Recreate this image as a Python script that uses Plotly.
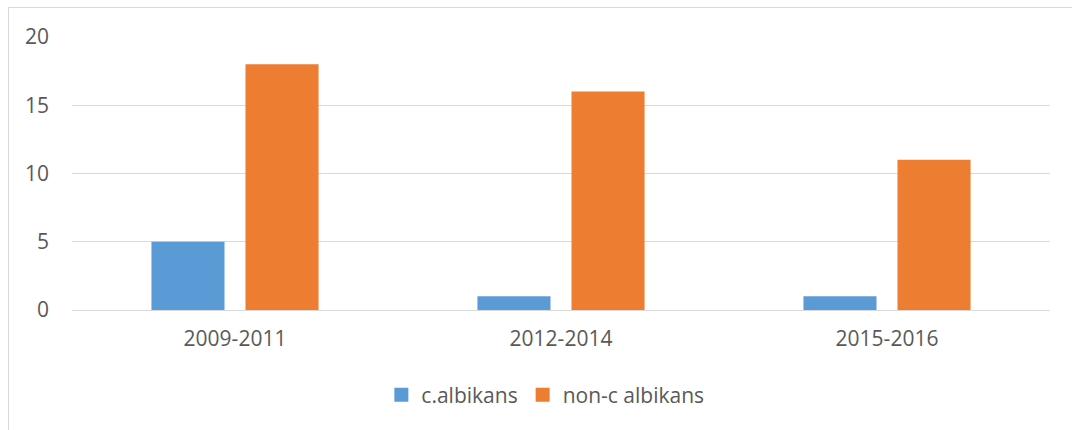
import plotly.graph_objects as go

categories = ["2009-2011", "2012-2014", "2015-2016"]
c_albikans = [5, 1, 1]
non_c_albikans = [18, 16, 11]
series_names = ["c.albikans", "non-c albikans"]
series_colors = ["#5B9BD5", "#ED7D31"]
y_ticks = [0, 5, 10, 15, 20]

W, H = 1072, 430
L, R, T, B = 72, 22, 37, 120
pw, ph = W - L - R, H - T - B

def px_x(p):
    return (p - L) / pw

def px_y(p):
    return (H - B - p) / ph

fig = go.Figure()
for name, vals, col in zip(series_names, [c_albikans, non_c_albikans], series_colors):
    fig.add_trace(go.Bar(x=categories, y=vals, name=name, showlegend=False,
                         marker=dict(color=col, line=dict(width=0))))
for name, col in zip(series_names, series_colors):
    fig.add_trace(go.Scatter(x=[None], y=[None], mode="markers", name=name,
                             marker=dict(symbol="square", size=14, color=col)))

font_family = "Open Sans, Noto Sans, sans-serif"
fs = 21
fig.update_layout(
    width=W, height=H,
    margin=dict(l=L, r=R, t=T, b=B, pad=0),
    paper_bgcolor="white", plot_bgcolor="white",
    barmode="group", bargap=0.423, bargroupgap=0.223,
    font=dict(family=font_family, size=fs, color="#595959"),
    showlegend=True,
    legend=dict(orientation="h", x=0.484, xanchor="center", y=px_y(395), yanchor="middle",
                font=dict(size=fs, color="#595959"), itemsizing="trace",
                itemwidth=30, traceorder="normal"),
    xaxis=dict(showgrid=False, showline=True, linecolor="#d9d9d9", linewidth=1,
               ticks="", ticklabelstandoff=10, tickfont=dict(size=fs, color="#595959")),
    yaxis=dict(range=[0, 20], tickvals=y_ticks, showgrid=True, gridcolor="#d9d9d9",
               gridwidth=1, zeroline=True, zerolinecolor="#d9d9d9", zerolinewidth=1,
               showline=False, ticks="", ticklabelstandoff=22,
               tickfont=dict(size=fs, color="#595959")),
    shapes=[dict(type="rect", xref="paper", yref="paper",
                 x0=px_x(8.5), x1=px_x(1090), y0=px_y(450), y1=px_y(7.5),
                 line=dict(color="#d9d9d9", width=1), fillcolor="rgba(0,0,0,0)",
                 layer="below")],
)

fig.write_html("out.html")
